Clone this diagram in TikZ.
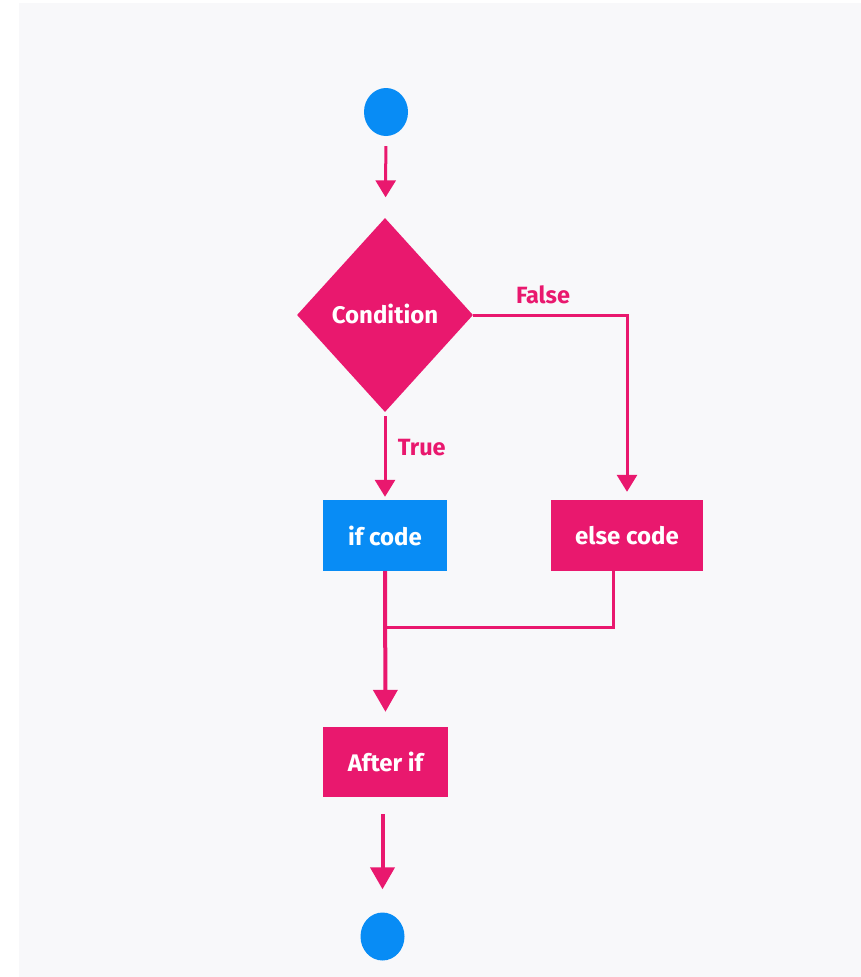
\documentclass[tikz,border=0pt]{standalone}
\usepackage{fontspec}
\setmainfont{Fira Sans}
\usetikzlibrary{arrows.meta, shapes.geometric, positioning, calc}
\definecolor{flowpink}{RGB}{233,24,110}
\definecolor{flowblue}{RGB}{8,140,245}
\definecolor{paper}{RGB}{248,248,250}

\begin{document}
\begin{tikzpicture}[x=1pt, y=-1pt,
    box/.style={rectangle, fill=#1, text=white, font=\bfseries\fontsize{24}{28}\selectfont, minimum height=71pt, inner sep=0pt},
    terminal/.style={ellipse, fill=flowblue, minimum width=44pt, minimum height=48pt, inner sep=0pt},
    flow/.style={draw=flowpink, line width=3pt, -{Triangle[width=20pt,length=17pt]}},
    bigflow/.style={draw=flowpink, line width=4pt, -{Triangle[width=24pt,length=22pt]}},
    link/.style={draw=flowpink, line width=3pt},
    lbl/.style={text=flowpink, font=\bfseries\fontsize{23.5}{28}\selectfont}]
      \useasboundingbox (0, 0) rectangle (861, 977);
      \fill[white] (0, 0) rectangle (861, 977);
      \fill[paper] (19, 3) rectangle (861, 977);

      \node[terminal] (start) at (386, 112) {};
      \node[diamond, fill=flowpink, text=white, font=\bfseries\fontsize{24}{28}\selectfont, minimum width=176pt, minimum height=194pt, inner sep=0pt] (cond) at (385, 315) {\raisebox{2pt}{Condition}};
      \node[box=flowblue, minimum width=124pt] (ifcode) at (385, 535.5) {if code};
      \node[box=flowpink, minimum width=152pt] (elsecode) at (627, 535.5) {else code};
      \node[box=flowpink, minimum width=125pt, minimum height=70pt] (after) at (385.5, 762) {After if};
      \node[terminal] (stop) at (382.5, 936.5) {};

      \draw[flow, shorten <=10pt, shorten >=21pt] (start) -- (cond);
      \draw[flow, shorten <=4pt, shorten >=3pt] (cond.south) -- (ifcode.north) node[lbl, pos=0.4, right=8pt] (truelbl) {True};
      \draw[flow, shorten >=8pt] (cond.east) -| (elsecode.north);
      \node[lbl] (falselbl) at (543, 295) {False};

      \coordinate (join) at (385, 627);
      \draw[link] ([xshift=-14pt]elsecode.south) |- (join);
      \draw[bigflow, shorten >=15pt] (ifcode.south) -- (after.north);
      \draw[bigflow, shorten <=17pt, shorten >=23pt] (after.south -| stop.north) -- (stop);
    \end{tikzpicture}
\end{document}
